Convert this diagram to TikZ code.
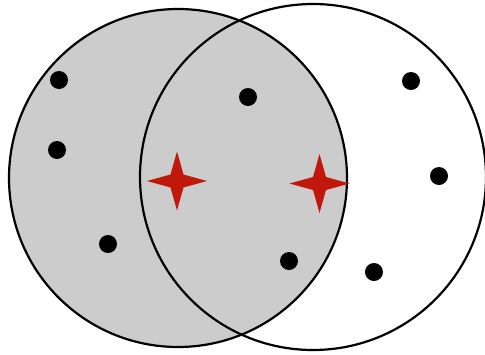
\documentclass[tikz,border=0pt]{standalone}
\definecolor{setgray}{HTML}{CCCCCC}
\definecolor{starred}{HTML}{C0180A}
\tikzset{
  setline/.style={line width=2.2pt, draw=black},
  pointdot/.style={circle, fill=black, inner sep=0pt, minimum size=18pt},
  starshape/.style={fill=starred, draw=none}
}
\newcommand{\fourstar}[3]{% name, x, y
  \fill[starred] (#2,#3) +(30,0) -- +(6.5,6.5) -- +(0,29.5) -- +(-6.5,6.5) -- +(-30,0) -- +(-6.5,-6.5) -- +(0,-29.5) -- +(6.5,-6.5) -- cycle;
  \coordinate (#1) at (#2,#3);
}
\begin{document}
\begin{tikzpicture}[x=1pt,y=-1pt]
\useasboundingbox (0,0) rectangle (485,354);
\clip (0,0) rectangle (485,354);
\node[circle, setline, fill=setgray, minimum size=338pt, inner sep=0pt] (A) at (178,178) {};
\node[circle, setline, minimum size=346pt, inner sep=0pt] (B) at (313,177) {};
\node[pointdot] (p1) at (59,80) {};
\node[pointdot] (p2) at (57,150) {};
\node[pointdot] (p3) at (108,244) {};
\node[pointdot] (p4) at (248,97) {};
\node[pointdot] (p5) at (289,261) {};
\node[pointdot] (p6) at (411,81) {};
\node[pointdot] (p7) at (439,176) {};
\node[pointdot] (p8) at (374,272) {};
\fourstar{s1}{177}{181}
\fourstar{s2}{319.5}{183.5}
\end{tikzpicture}
\end{document}
